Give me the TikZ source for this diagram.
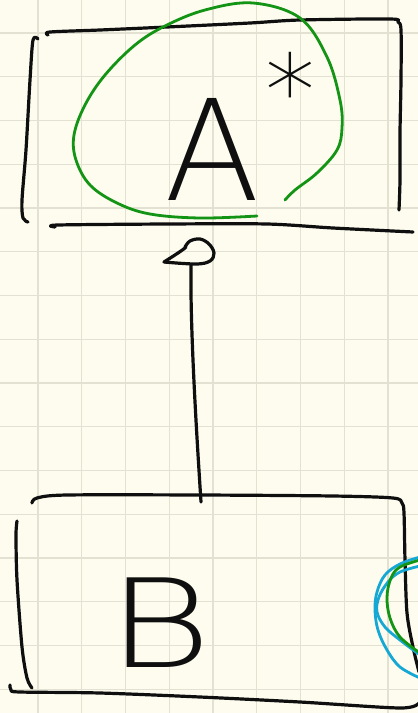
\documentclass[tikz,border=0pt]{standalone}
\usepackage{fontspec}
\newfontfamily\hand{DejaVuSans-ExtraLight}[Extension=.ttf]
\definecolor{paper}{RGB}{253,252,239}
\definecolor{gridc}{RGB}{226,225,210}
\definecolor{inkblack}{RGB}{15,15,15}
\definecolor{inkgreen}{RGB}{20,148,20}
\definecolor{inkblue}{RGB}{22,168,212}
\tikzset{
  gridline/.style={draw=gridc, line width=1.3pt},
  ink/.style={draw=inkblack, line width=3.2pt, line cap=round, line join=round},
  greenink/.style={draw=inkgreen, line width=2.8pt, line cap=round, line join=round},
  blueink/.style={draw=inkblue, line width=2.8pt, line cap=round, line join=round},
  letter/.style={inner sep=0pt, text=inkblack, anchor=base},
  boxarea/.style={inner sep=0pt, draw=none},
}
\begin{document}
\begin{tikzpicture}[x=1pt, y=-1pt]
\useasboundingbox (0,0) rectangle (418,713);
\fill[paper] (0,0) rectangle (418,713);
% grid
\foreach \i in {0,...,8} \draw[gridline] ({38+43.75*\i},0) -- ++(0,713);
\foreach \j in {0,...,15} \draw[gridline] (0,{33+43.75*\j}) -- ++(418,0);

% ---------- box A ----------
\node[boxarea, minimum width=380pt, minimum height=200pt] (boxA) at (215,125) {};
\draw[ink] plot[smooth, tension=0.5] coordinates {(48,35) (50,32) (100,30) (167,27) (250,23) (300,20) (390,19) (398,22) (401,30) (401,80) (400,133) (400,180) (399,210)};
\draw[ink] plot[smooth, tension=0.5] coordinates {(38,39) (33,40) (30,80) (26,150) (22,200) (23,218) (28,222)};
\draw[ink] plot[smooth, tension=0.5] coordinates {(55,227) (58,225) (167,224) (267,224) (333,228) (413,232)};
\node[letter, font=\hand\fontsize{140}{140}\selectfont] (A) at (212,200) {A};
\node[letter, font=\hand\fontsize{100}{100}\selectfont] (star) at (290,126) {*};
\draw[greenink] plot[smooth, tension=0.6] coordinates {(257,216) (200,218) (150,214) (117,203) (90,185) (76,160) (74,135) (85,105) (105,75) (135,45) (165,26) (205,10) (253,3) (300,18) (327,57) (340,100) (342,128) (337,150) (317,173) (295,190) (285,200)};

% ---------- connector ----------
\coordinate (tA) at (191,265);
\coordinate (hB) at (201,502);
\draw[ink] (hB) .. controls (197,440) and (190,330) .. (tA);
\draw[ink] plot[smooth, tension=0.6] coordinates {(185,247) (190,241) (200,239) (209,244) (214,253) (210,261) (196,264) (164,262)};
\draw[ink] (164,262) .. controls (175,255) and (183,250) .. (186,247);

% ---------- box B ----------
\node[boxarea, minimum width=390pt, minimum height=195pt] (boxB) at (212,595) {};
\draw[ink] plot[smooth, tension=0.5] coordinates {(32,503) (37,498) (67,495) (200,495) (333,496) (393,498) (402,503) (404,513) (405,560) (407,613) (413,647) (419,672)};
\draw[ink] plot[smooth, tension=0.5] coordinates {(17,521) (16,535) (17,580) (22,647) (27,678) (32,688)};
\draw[ink] plot[smooth, tension=0.5] coordinates {(10,685) (11,690) (20,692) (100,693) (200,697) (300,702) (400,708) (419,703)};
\node[letter, font=\hand\fontsize{123}{123}\selectfont] (B) at (160,667) {\scalebox{1.3}[1]{B}};

% ---------- partial circles at right edge ----------
\draw[blueink] plot[smooth, tension=0.6] coordinates {(420,557) (400,564) (385,575) (377,592) (375,610) (378,630) (387,650) (400,667) (420,678)};
\draw[blueink] plot[smooth, tension=0.6] coordinates {(420,566) (400,572) (388,582) (379,597) (377,612) (385,627) (400,640) (420,655)};
\draw[greenink] plot[smooth, tension=0.6] coordinates {(420,560) (400,567) (391,578) (387,597) (390,618) (400,637) (420,653)};
\end{tikzpicture}
\end{document}
